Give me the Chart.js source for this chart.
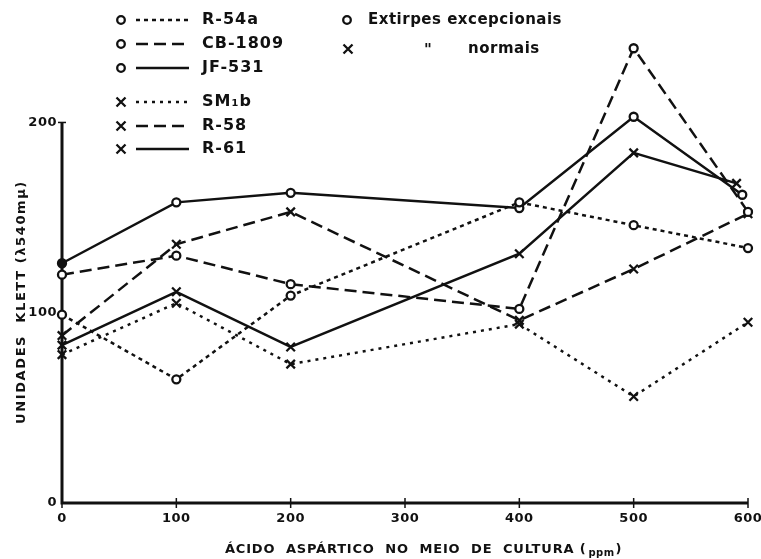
<!DOCTYPE html>
<html>
<head>
<meta charset="utf-8">
<script src="https://cdn.jsdelivr.net/npm/chart.js@4.4.0/dist/chart.umd.min.js"></script>
<style>
html, body { margin: 0; padding: 0; background: #fff; }
#wrap { width: 761px; height: 559px; }
</style>
</head>
<body>
<div id="wrap"><canvas id="aspChart" width="761" height="559"></canvas></div>
<script>
// DATA
const xPoints = [0, 100, 200, 400, 500, 600];
const xPointsJF = [0, 100, 200, 400, 500, 595];
const xPointsR61 = [0, 100, 200, 400, 500, 590];

const r54a   = [99, 65, 109, 158, 146, 134];
const cb1809 = [120, 130, 115, 102, 239, 153];
const jf531  = [126, 158, 163, 155, 203, 162];
const sm1b   = [78, 105, 73, 94, 56, 95];
const r58    = [88, 136, 153, 96, 123, 152];
const r61    = [83, 111, 82, 131, 184, 168];

const xTicks = [0, 100, 200, 300, 400, 500, 600];
const yTicks = [0, 100, 200];

const ink = '#111';
const font = '"DejaVu Sans", sans-serif';

const dotted = [4, 4];
const fineDot = [3, 5];
const dashed = [12, 6];
const solid = [];

function pts(xs, ys) {
    return ys.map((v, i) => ({ x: xs[i], y: v }));
}

function series(label, xs, ys, dash, marker) {
    return {
        label: label,
        data: pts(xs, ys),
        borderColor: ink,
        borderWidth: 2.5,
        borderDash: dash,
        pointStyle: marker,
        pointRadius: marker === 'circle' ? 4 : 6,
        pointBorderWidth: 2.3,
        pointBorderColor: ink,
        pointBackgroundColor: '#fff',
        fill: false,
        tension: 0,
        clip: false
    };
}

const jfSet = series('JF-531', xPointsJF, jf531, solid, 'circle');
jfSet.pointBackgroundColor = jf531.map((v, i) => i === 0 ? ink : '#fff');

const dataBlock = {
    datasets: [
        series('R-54a', xPoints, r54a, dotted, 'circle'),
        series('CB-1809', xPoints, cb1809, dashed, 'circle'),
        jfSet,
        series('SM₁b', xPoints, sm1b, fineDot, 'crossRot'),
        series('R-58', xPoints, r58, dashed, 'crossRot'),
        series('R-61', xPointsR61, r61, solid, 'crossRot')
    ]
};

// axes, ticks and titles drawn by hand through the chart scales
const axesPlugin = {
    id: 'handAxes',
    beforeDatasetsDraw(chart) {
        const { ctx, scales: { x, y } } = chart;
        const x0 = x.getPixelForValue(0), x6 = x.getPixelForValue(600);
        const y0 = y.getPixelForValue(0), y2 = y.getPixelForValue(200);
        ctx.save();
        ctx.strokeStyle = ink;
        ctx.lineWidth = 3;
        ctx.setLineDash([]);
        ctx.beginPath();
        ctx.moveTo(x0, y2);
        ctx.lineTo(x0, y0);
        ctx.lineTo(x6, y0);
        ctx.stroke();
        ctx.lineWidth = 1.5;
        xTicks.forEach(t => {
            const px = x.getPixelForValue(t);
            ctx.beginPath();
            ctx.moveTo(px, y0 - 5);
            ctx.lineTo(px, y0 + 5);
            ctx.stroke();
        });
        ctx.beginPath();
        ctx.moveTo(x0 - 4, y2);
        ctx.lineTo(x0 + 4, y2);
        ctx.stroke();
        ctx.restore();
    },
    afterDraw(chart) {
        const { ctx, scales: { x, y } } = chart;
        const y0 = y.getPixelForValue(0);
        ctx.save();
        ctx.fillStyle = ink;
        ctx.font = 'bold 13px ' + font;
        ctx.letterSpacing = '0.5px';
        ctx.textBaseline = 'middle';
        ctx.textAlign = 'center';
        xTicks.forEach(t => ctx.fillText(String(t), x.getPixelForValue(t), y0 + 16));
        ctx.textAlign = 'right';
        yTicks.forEach(t => ctx.fillText(String(t), x.getPixelForValue(0) - 5, y.getPixelForValue(t)));

        // x title
        ctx.font = 'bold 13px ' + font;
        ctx.letterSpacing = '0.8px';
        ctx.textAlign = 'left';
        const main = 'ÁCIDO  ASPÁRTICO  NO  MEIO  DE  CULTURA (';
        const tx = 225, ty = 550;
        ctx.fillText(main, tx, ty);
        let w = ctx.measureText(main).width;
        ctx.font = 'bold 10px ' + font;
        ctx.letterSpacing = '0.5px';
        ctx.fillText('ppm', tx + w + 2, ty + 3);
        w += ctx.measureText('ppm').width + 3;
        ctx.font = 'bold 13px ' + font;
        ctx.fillText(')', tx + w, ty);

        // y title
        ctx.save();
        ctx.translate(22, 302);
        ctx.rotate(-Math.PI / 2);
        ctx.textAlign = 'center';
        ctx.font = 'bold 13px ' + font;
        ctx.letterSpacing = '1.6px';
        ctx.fillText('UNIDADES  KLETT (λ540mμ)', 0, 0);
        ctx.restore();

        // legend
        const rows = [
            { y: 20, ds: 0 }, { y: 44, ds: 1 }, { y: 68, ds: 2 },
            { y: 102, ds: 3 }, { y: 126, ds: 4 }, { y: 149, ds: 5 }
        ];
        rows.forEach(r => {
            const d = chart.data.datasets[r.ds];
            drawMarker(ctx, d.pointStyle, 121, r.y);
            ctx.strokeStyle = ink;
            ctx.lineWidth = 2.5;
            ctx.setLineDash(d.borderDash);
            ctx.beginPath();
            ctx.moveTo(136, r.y);
            ctx.lineTo(189, r.y);
            ctx.stroke();
            ctx.setLineDash([]);
            ctx.font = 'bold 16px ' + font;
            ctx.letterSpacing = '1px';
            ctx.textAlign = 'left';
            ctx.fillText(d.label, 202, r.y);
        });
        drawMarker(ctx, 'circle', 347, 20);
        drawMarker(ctx, 'crossRot', 348, 49);
        ctx.font = 'bold 15px ' + font;
        ctx.letterSpacing = '0.5px';
        ctx.fillText('Extirpes excepcionais', 368, 20);
        ctx.fillText('"', 424, 51);
        ctx.fillText('normais', 468, 49);
        ctx.restore();
    }
};

function drawMarker(ctx, style, cx, cy) {
    ctx.save();
    ctx.strokeStyle = ink;
    ctx.lineWidth = 2.3;
    ctx.setLineDash([]);
    ctx.beginPath();
    if (style === 'circle') {
        ctx.arc(cx, cy, 3.8, 0, Math.PI * 2);
        ctx.fillStyle = '#fff';
        ctx.fill();
    } else {
        const r = 4.5;
        ctx.moveTo(cx - r, cy - r); ctx.lineTo(cx + r, cy + r);
        ctx.moveTo(cx + r, cy - r); ctx.lineTo(cx - r, cy + r);
    }
    ctx.stroke();
    ctx.restore();
}

// CONFIG
const config = {
    type: 'line',
    data: dataBlock,
    options: {
        responsive: false,
        animation: false,
        devicePixelRatio: 1,
        layout: { padding: { left: 62, right: 13, top: 3, bottom: 56 } },
        plugins: { legend: { display: false }, tooltip: { enabled: false } },
        scales: {
            x: { type: 'linear', min: 0, max: 600, display: false },
            y: { type: 'linear', min: 0, max: 260, display: false }
        }
    },
    plugins: [axesPlugin]
};

// RENDER
const aspChart = new Chart(document.getElementById('aspChart'), config);
</script>
</body>
</html>
